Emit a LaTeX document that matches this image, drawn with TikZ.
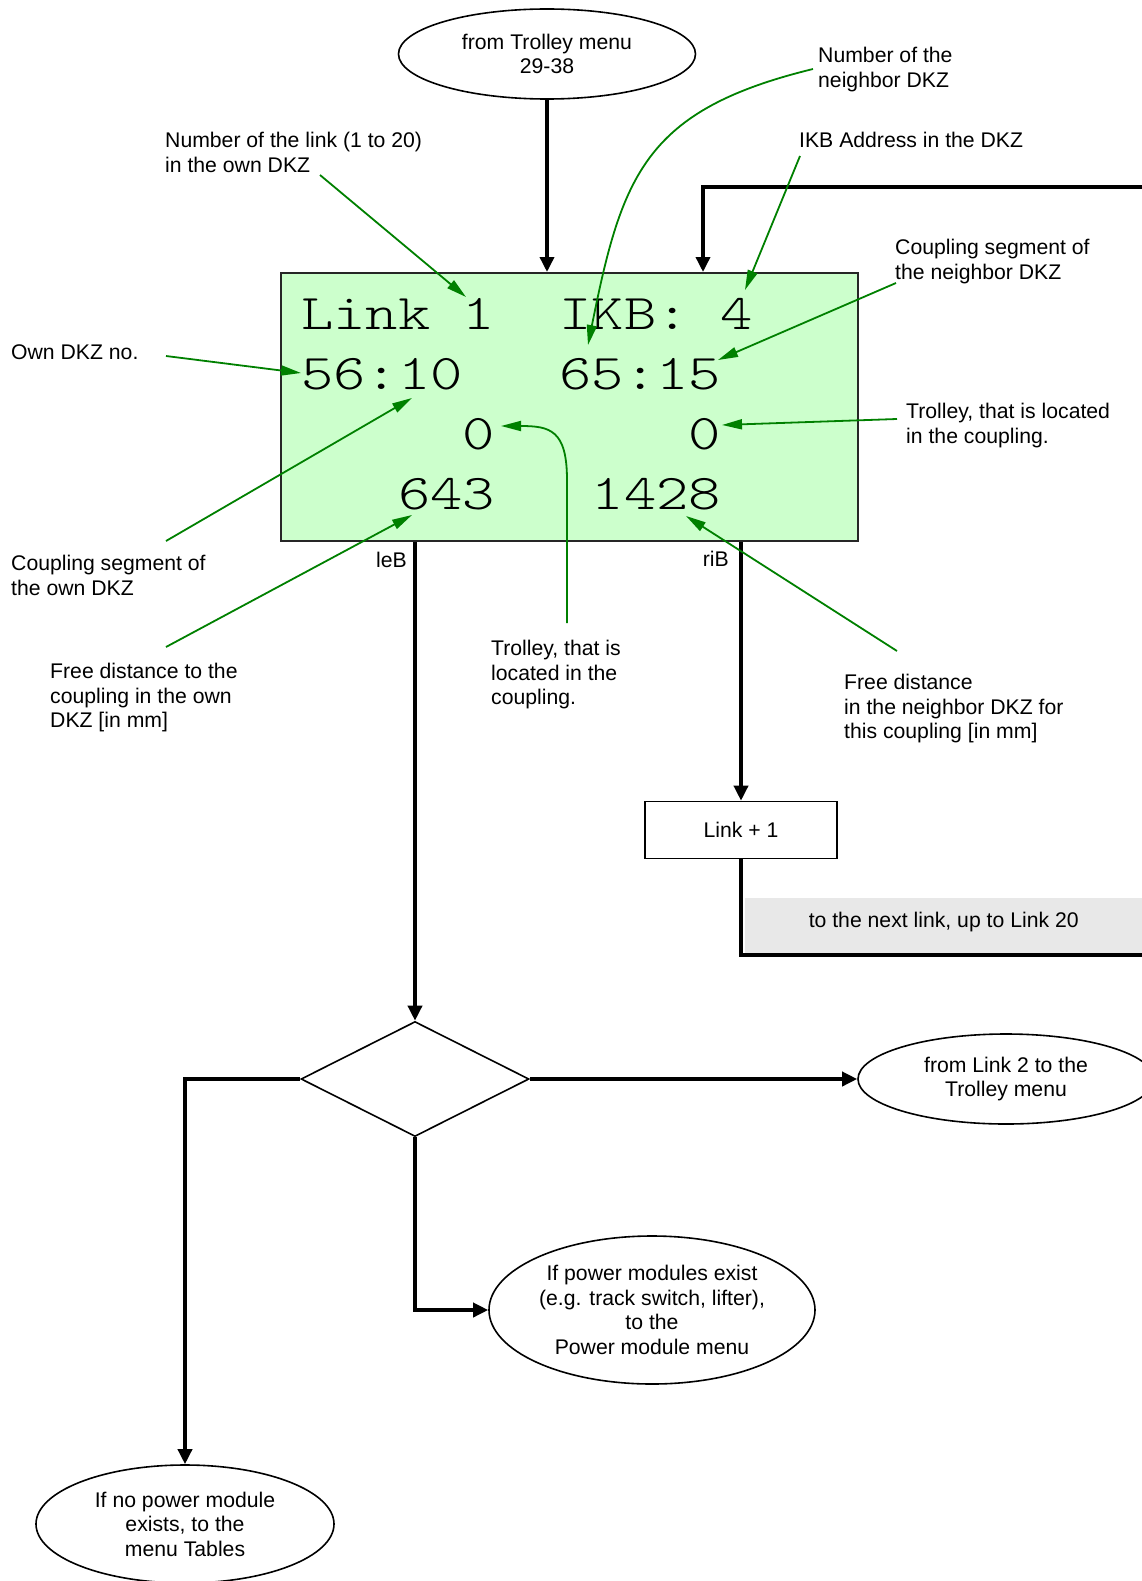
\documentclass[tikz,border=0pt]{standalone}
\usepackage{fontspec}
\setmainfont{Liberation Sans}
\setmonofont{Liberation Mono}
\newfontfamily\lcdfont[FakeStretch=1.23]{lmmonolt10-regular.otf}
\usetikzlibrary{shapes.geometric,arrows.meta,calc}
\definecolor{lcd}{HTML}{CCFFCC}
\definecolor{band}{HTML}{E8E8E8}
\definecolor{ann}{RGB}{0,128,0}
\begin{document}
\begin{tikzpicture}[x=1pt,y=-1pt,
  lbl/.style={font=\fontsize{21.2}{24.5}\selectfont, align=left, anchor=north west, inner sep=0pt},
  small/.style={font=\fontsize{21.2}{24.5}\selectfont, inner sep=0pt, anchor=base east},
  flow/.style={line width=3.5pt, -{Triangle[length=15pt,width=14pt]}},
  flowline/.style={line width=3.5pt},
  annot/.style={ann, line width=1.8pt, -{Triangle[length=20pt,width=10pt]}},
  oval/.style={ellipse, draw, line width=1.6pt, inner sep=0pt, align=center,
    font=\fontsize{21.2}{24.5}\selectfont},
  lcdtext/.style={font={\lcdfont\fontsize{50}{60}\selectfont}, anchor=base west, inner sep=0pt}
]
\useasboundingbox (0,0) rectangle (1142,1581);
\clip (0,0) rectangle (1142,1581);

% grey band
\node[fill=band, minimum width=397pt, minimum height=57pt, anchor=north west, inner sep=0pt,
  text height=15pt, text depth=13pt, font=\fontsize{21.2}{24.5}\selectfont] (band) at (745,898)
  {to the next link, up to Link 20};

% main LCD box
\node[draw=black!85, line width=1.8pt, fill=lcd, minimum width=577pt, minimum height=268pt,
  anchor=north west, inner sep=0pt] (lcdbox) at (280,272) {};
\node[lcdtext] (row1) at (301,329) {Link~1~~IKB:~4};
\node[lcdtext] (row2) at (301,389) {56:10~~~65:15};
\node[lcdtext] (row3) at (301,449) {~~~~~0~~~~~~0};
\node[lcdtext] (row4) at (301,509) {~~~643~~~1428};

% ovals and boxes
\node[oval, minimum width=297pt, minimum height=90pt] (top) at (547,54) {from Trolley menu\\29-38};
\node[draw, line width=1.6pt, minimum width=192pt, minimum height=57pt, inner sep=0pt,
  font=\fontsize{21.2}{24.5}\selectfont] (linkp) at (741,830) {Link + 1};
\node[diamond, draw, line width=1.6pt, minimum width=228pt, minimum height=115pt, inner sep=0pt] (dia) at (415,1079) {};
\node[oval, minimum width=296pt, minimum height=90pt] (trol) at (1006,1079) {from Link 2 to the\\Trolley menu};
\node[oval, minimum width=326pt, minimum height=148pt] (power) at (652,1310)
  {If power modules exist\\(e.g. track switch, lifter),\\to the\\Power module menu};
\node[oval, minimum width=298pt, minimum height=118pt] (tables) at (185,1524)
  {If no power module\\exists, to the\\menu Tables};

% helper coordinates
\coordinate (ikbx) at (703,0);
\coordinate (lex) at (415,0);
\coordinate (rix) at (741,0);
\coordinate (loopin) at (1142,187);
\coordinate (loopout) at (1142,955);

% flow connectors
\draw[flow] (top.south) -- (top.south |- lcdbox.north);
\draw[flow] (loopin) -| (lcdbox.north -| ikbx);
\draw[flow] (lcdbox.south -| lex) -- (dia.north);
\draw[flow] (lcdbox.south -| rix) -- (linkp.north);
\draw[flowline] (linkp.south) |- (loopout);
\draw[flow] (dia.east) -- (trol.west);
\draw[flow] (dia.west) -| (tables.north);
\draw[flow] (dia.south) |- (power.west);

\node[small] (leb) at (407,567) {leB};
\node[small] (rib) at (729,566) {riB};

% annotation labels
\node[lbl] (t1) at (165,132) {Number of the link (1 to 20)\\in the own DKZ};
\node[lbl] (t2) at (818,47) {Number of the\\neighbor DKZ};
\node[lbl] (t3) at (799,132) {IKB Address in the DKZ};
\node[lbl] (t4) at (895,239) {Coupling segment of\\the neighbor DKZ};
\node[lbl] (t5) at (11,344) {Own DKZ no.};
\node[lbl] (t6) at (906,403) {Trolley, that is located\\in the coupling.};
\node[lbl] (t7) at (11,555) {Coupling segment of\\the own DKZ};
\node[lbl] (t8) at (491,640) {Trolley, that is\\located in the\\coupling.};
\node[lbl] (t9) at (50,663) {Free distance to the\\coupling in the own\\DKZ [in mm]};
\node[lbl] (t10) at (844,674) {Free distance\\in the neighbor DKZ for\\this coupling [in mm]};

% annotation arrows
\coordinate (a1s) at (320,175);  \coordinate (a1e) at (466,297);
\coordinate (a2s) at (813,69);   \coordinate (a2e) at (588,345);
\coordinate (a3s) at (800,156);  \coordinate (a3e) at (745,290);
\coordinate (a4s) at (896,283);  \coordinate (a4e) at (718,360);
\coordinate (a5s) at (166,356);  \coordinate (a5e) at (301,373);
\coordinate (a6s) at (897,419);  \coordinate (a6e) at (722,425);
\coordinate (a7s) at (166,541);  \coordinate (a7e) at (412,398);
\coordinate (a8s) at (567,623);  \coordinate (a8m) at (567,480); \coordinate (a8e) at (501,426);
\coordinate (a9s) at (166,647);  \coordinate (a9e) at (412,515);
\coordinate (a10s) at (897,651); \coordinate (a10e) at (686,516);

\draw[annot] (a1s) -- (a1e);
\draw[annot] (a2s) .. controls (645,110) and (622,175) .. (a2e);
\draw[annot] (a3s) -- (a3e);
\draw[annot] (a4s) -- (a4e);
\draw[annot] (a5s) -- (a5e);
\draw[annot] (a6s) -- (a6e);
\draw[annot] (a7s) -- (a7e);
\draw[annot] (a8s) -- (a8m) .. controls (567,430) and (550,426) .. (a8e);
\draw[annot] (a9s) -- (a9e);
\draw[annot] (a10s) -- (a10e);
\end{tikzpicture}
\end{document}
